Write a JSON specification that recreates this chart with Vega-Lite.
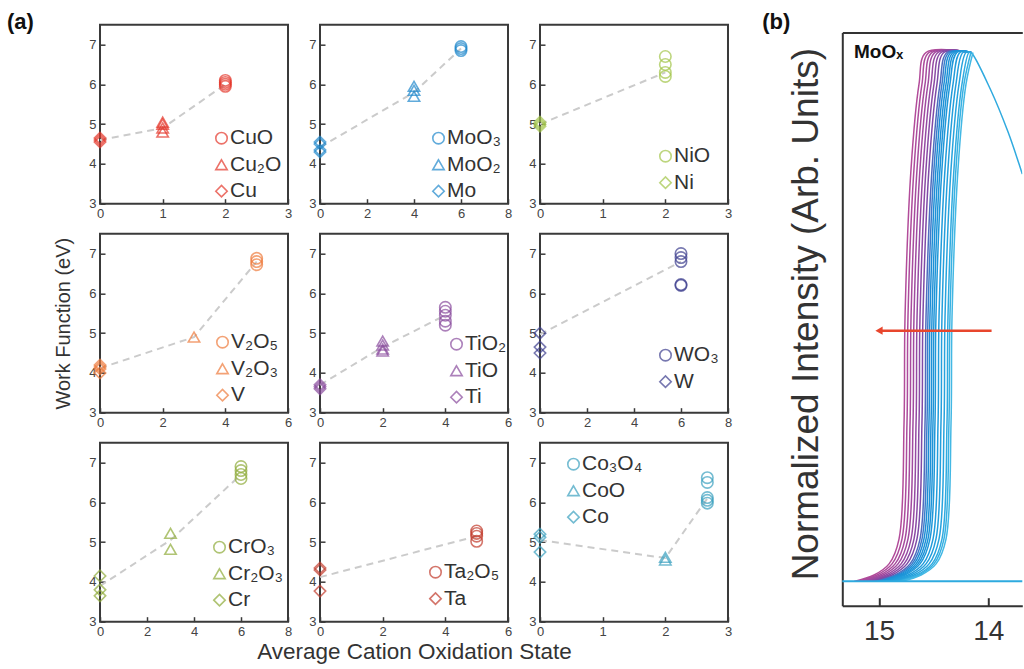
{
  "$schema": "https://vega.github.io/schema/vega-lite/v6.json",
  "background": "white",
  "padding": {"left": 6, "top": 9.7, "right": 0, "bottom": 0},
  "config": {
    "font": "Liberation Sans",
    "view": {"stroke": "#3a3a3a", "strokeWidth": 2},
    "axis": {
      "domain": false, "grid": false,
      "tickSize": -5, "tickColor": "#3a3a3a", "tickWidth": 1.5,
      "labelPadding": 9, "labelFont": "Liberation Sans", "labelFontSize": 13, "labelColor": "#444",
      "labelOverlap": false, "labelBound": false, "labelFlush": false,
      "titleFont": "Liberation Sans", "titleFontWeight": "normal", "titleColor": "#333"
    },
    "legend": {
      "orient": "none", "title": null, "padding": 0,
      "labelFont": "Liberation Sans", "labelFontSize": 21, "labelColor": "#333", "labelOffset": -2,
      "symbolSize": 130, "symbolStrokeWidth": 1.6, "symbolFillColor": "transparent", "rowPadding": 4.5
    },
    "title": {"font": "Liberation Sans", "fontWeight": "bold", "fontSize": 22, "color": "#111", "anchor": "start", "baseline": "alphabetic", "frame": "group"}
  },
  "datasets": {
    "wf": [
      {"p": "Cu", "c": "CuO", "ox": 2, "wf": 5.95}, {"p": "Cu", "c": "CuO", "ox": 2, "wf": 6.0}, {"p": "Cu", "c": "CuO", "ox": 2, "wf": 6.05}, {"p": "Cu", "c": "CuO", "ox": 2, "wf": 6.1},
      {"p": "Cu", "c": "Cu₂O", "ox": 1, "wf": 4.8}, {"p": "Cu", "c": "Cu₂O", "ox": 1, "wf": 4.9}, {"p": "Cu", "c": "Cu₂O", "ox": 1, "wf": 5.0}, {"p": "Cu", "c": "Cu₂O", "ox": 1, "wf": 5.05},
      {"p": "Cu", "c": "Cu", "ox": 0, "wf": 4.55}, {"p": "Cu", "c": "Cu", "ox": 0, "wf": 4.6}, {"p": "Cu", "c": "Cu", "ox": 0, "wf": 4.65},
      {"p": "Mo", "c": "MoO₃", "ox": 6, "wf": 6.85}, {"p": "Mo", "c": "MoO₃", "ox": 6, "wf": 6.9}, {"p": "Mo", "c": "MoO₃", "ox": 6, "wf": 6.95},
      {"p": "Mo", "c": "MoO₂", "ox": 4, "wf": 5.7}, {"p": "Mo", "c": "MoO₂", "ox": 4, "wf": 5.85}, {"p": "Mo", "c": "MoO₂", "ox": 4, "wf": 5.95},
      {"p": "Mo", "c": "Mo", "ox": 0, "wf": 4.3}, {"p": "Mo", "c": "Mo", "ox": 0, "wf": 4.35}, {"p": "Mo", "c": "Mo", "ox": 0, "wf": 4.5}, {"p": "Mo", "c": "Mo", "ox": 0, "wf": 4.55},
      {"p": "Ni", "c": "NiO", "ox": 2, "wf": 6.2}, {"p": "Ni", "c": "NiO", "ox": 2, "wf": 6.3}, {"p": "Ni", "c": "NiO", "ox": 2, "wf": 6.5}, {"p": "Ni", "c": "NiO", "ox": 2, "wf": 6.7},
      {"p": "Ni", "c": "Ni", "ox": 0, "wf": 4.95}, {"p": "Ni", "c": "Ni", "ox": 0, "wf": 5.0}, {"p": "Ni", "c": "Ni", "ox": 0, "wf": 5.05},
      {"p": "V", "c": "V₂O₅", "ox": 5, "wf": 6.72}, {"p": "V", "c": "V₂O₅", "ox": 5, "wf": 6.8}, {"p": "V", "c": "V₂O₅", "ox": 5, "wf": 6.88},
      {"p": "V", "c": "V₂O₃", "ox": 3, "wf": 4.9},
      {"p": "V", "c": "V", "ox": 0, "wf": 4.0}, {"p": "V", "c": "V", "ox": 0, "wf": 4.1}, {"p": "V", "c": "V", "ox": 0, "wf": 4.15}, {"p": "V", "c": "V", "ox": 0, "wf": 4.2},
      {"p": "Ti", "c": "TiO₂", "ox": 4, "wf": 5.2}, {"p": "Ti", "c": "TiO₂", "ox": 4, "wf": 5.3}, {"p": "Ti", "c": "TiO₂", "ox": 4, "wf": 5.45}, {"p": "Ti", "c": "TiO₂", "ox": 4, "wf": 5.55}, {"p": "Ti", "c": "TiO₂", "ox": 4, "wf": 5.65},
      {"p": "Ti", "c": "TiO", "ox": 2, "wf": 4.55}, {"p": "Ti", "c": "TiO", "ox": 2, "wf": 4.6}, {"p": "Ti", "c": "TiO", "ox": 2, "wf": 4.7}, {"p": "Ti", "c": "TiO", "ox": 2, "wf": 4.8},
      {"p": "Ti", "c": "Ti", "ox": 0, "wf": 3.6}, {"p": "Ti", "c": "Ti", "ox": 0, "wf": 3.65}, {"p": "Ti", "c": "Ti", "ox": 0, "wf": 3.7},
      {"p": "W", "c": "WO₃", "ox": 6, "wf": 6.2}, {"p": "W", "c": "WO₃", "ox": 6, "wf": 6.22}, {"p": "W", "c": "WO₃", "ox": 6, "wf": 6.8}, {"p": "W", "c": "WO₃", "ox": 6, "wf": 6.9}, {"p": "W", "c": "WO₃", "ox": 6, "wf": 7.0},
      {"p": "W", "c": "W", "ox": 0, "wf": 4.5}, {"p": "W", "c": "W", "ox": 0, "wf": 4.65}, {"p": "W", "c": "W", "ox": 0, "wf": 5.0},
      {"p": "Cr", "c": "CrO₃", "ox": 6, "wf": 6.6}, {"p": "Cr", "c": "CrO₃", "ox": 6, "wf": 6.7}, {"p": "Cr", "c": "CrO₃", "ox": 6, "wf": 6.8}, {"p": "Cr", "c": "CrO₃", "ox": 6, "wf": 6.9},
      {"p": "Cr", "c": "Cr₂O₃", "ox": 3, "wf": 4.82}, {"p": "Cr", "c": "Cr₂O₃", "ox": 3, "wf": 5.22},
      {"p": "Cr", "c": "Cr", "ox": 0, "wf": 3.65}, {"p": "Cr", "c": "Cr", "ox": 0, "wf": 3.8}, {"p": "Cr", "c": "Cr", "ox": 0, "wf": 4.15},
      {"p": "Ta", "c": "Ta₂O₅", "ox": 5, "wf": 5.02}, {"p": "Ta", "c": "Ta₂O₅", "ox": 5, "wf": 5.15}, {"p": "Ta", "c": "Ta₂O₅", "ox": 5, "wf": 5.22}, {"p": "Ta", "c": "Ta₂O₅", "ox": 5, "wf": 5.28},
      {"p": "Ta", "c": "Ta", "ox": 0, "wf": 3.77}, {"p": "Ta", "c": "Ta", "ox": 0, "wf": 4.3}, {"p": "Ta", "c": "Ta", "ox": 0, "wf": 4.35},
      {"p": "Co", "c": "Co₃O₄", "ox": 2.67, "wf": 5.98}, {"p": "Co", "c": "Co₃O₄", "ox": 2.67, "wf": 6.05}, {"p": "Co", "c": "Co₃O₄", "ox": 2.67, "wf": 6.12}, {"p": "Co", "c": "Co₃O₄", "ox": 2.67, "wf": 6.5}, {"p": "Co", "c": "Co₃O₄", "ox": 2.67, "wf": 6.62},
      {"p": "Co", "c": "CoO", "ox": 2, "wf": 4.55}, {"p": "Co", "c": "CoO", "ox": 2, "wf": 4.62},
      {"p": "Co", "c": "Co", "ox": 0, "wf": 4.75}, {"p": "Co", "c": "Co", "ox": 0, "wf": 5.12}, {"p": "Co", "c": "Co", "ox": 0, "wf": 5.2}
    ],
    "trend": [
      {"p": "Cu", "ox": 0, "wf": 4.6}, {"p": "Cu", "ox": 1, "wf": 4.9}, {"p": "Cu", "ox": 2, "wf": 6.0},
      {"p": "Mo", "ox": 0, "wf": 4.42}, {"p": "Mo", "ox": 4, "wf": 5.8}, {"p": "Mo", "ox": 6, "wf": 6.9},
      {"p": "Ni", "ox": 0, "wf": 5.0}, {"p": "Ni", "ox": 2, "wf": 6.3},
      {"p": "V", "ox": 0, "wf": 4.12}, {"p": "V", "ox": 3, "wf": 4.9}, {"p": "V", "ox": 5, "wf": 6.8},
      {"p": "Ti", "ox": 0, "wf": 3.7}, {"p": "Ti", "ox": 2, "wf": 4.65}, {"p": "Ti", "ox": 4, "wf": 5.45},
      {"p": "W", "ox": 0, "wf": 4.97}, {"p": "W", "ox": 6, "wf": 6.8},
      {"p": "Cr", "ox": 0, "wf": 3.9}, {"p": "Cr", "ox": 3, "wf": 5.05}, {"p": "Cr", "ox": 6, "wf": 6.7},
      {"p": "Ta", "ox": 0, "wf": 4.12}, {"p": "Ta", "ox": 5, "wf": 5.15},
      {"p": "Co", "ox": 0, "wf": 5.05}, {"p": "Co", "ox": 2, "wf": 4.6}, {"p": "Co", "ox": 2.67, "wf": 6.1}
    ],
    "ups": [
      {"k": 1, "e": 15.228, "i": 0}, {"k": 1, "e": 15.045, "i": 0.012}, {"k": 1, "e": 14.908, "i": 0.033}, {"k": 1, "e": 14.817, "i": 0.08}, {"k": 1, "e": 14.771, "i": 0.3}, {"k": 1, "e": 14.762, "i": 0.5}, {"k": 1, "e": 14.707, "i": 0.78}, {"k": 1, "e": 14.634, "i": 0.94}, {"k": 1, "e": 14.570, "i": 1}, {"k": 1, "e": 14.158, "i": 1},
      {"k": 2, "e": 15.201, "i": 0}, {"k": 2, "e": 15.018, "i": 0.012}, {"k": 2, "e": 14.881, "i": 0.033}, {"k": 2, "e": 14.790, "i": 0.08}, {"k": 2, "e": 14.744, "i": 0.3}, {"k": 2, "e": 14.735, "i": 0.5}, {"k": 2, "e": 14.680, "i": 0.78}, {"k": 2, "e": 14.607, "i": 0.94}, {"k": 2, "e": 14.543, "i": 1}, {"k": 2, "e": 14.158, "i": 1},
      {"k": 3, "e": 15.173, "i": 0}, {"k": 3, "e": 14.990, "i": 0.012}, {"k": 3, "e": 14.853, "i": 0.033}, {"k": 3, "e": 14.762, "i": 0.08}, {"k": 3, "e": 14.716, "i": 0.3}, {"k": 3, "e": 14.707, "i": 0.5}, {"k": 3, "e": 14.652, "i": 0.78}, {"k": 3, "e": 14.579, "i": 0.94}, {"k": 3, "e": 14.515, "i": 1}, {"k": 3, "e": 14.158, "i": 1},
      {"k": 4, "e": 15.146, "i": 0}, {"k": 4, "e": 14.963, "i": 0.012}, {"k": 4, "e": 14.826, "i": 0.033}, {"k": 4, "e": 14.735, "i": 0.08}, {"k": 4, "e": 14.689, "i": 0.3}, {"k": 4, "e": 14.680, "i": 0.5}, {"k": 4, "e": 14.625, "i": 0.78}, {"k": 4, "e": 14.552, "i": 0.94}, {"k": 4, "e": 14.488, "i": 1}, {"k": 4, "e": 14.158, "i": 1},
      {"k": 5, "e": 15.118, "i": 0}, {"k": 5, "e": 14.935, "i": 0.012}, {"k": 5, "e": 14.798, "i": 0.033}, {"k": 5, "e": 14.707, "i": 0.08}, {"k": 5, "e": 14.661, "i": 0.3}, {"k": 5, "e": 14.652, "i": 0.5}, {"k": 5, "e": 14.597, "i": 0.78}, {"k": 5, "e": 14.524, "i": 0.94}, {"k": 5, "e": 14.460, "i": 1}, {"k": 5, "e": 14.158, "i": 1},
      {"k": 6, "e": 15.091, "i": 0}, {"k": 6, "e": 14.908, "i": 0.012}, {"k": 6, "e": 14.771, "i": 0.033}, {"k": 6, "e": 14.680, "i": 0.08}, {"k": 6, "e": 14.634, "i": 0.3}, {"k": 6, "e": 14.625, "i": 0.5}, {"k": 6, "e": 14.570, "i": 0.78}, {"k": 6, "e": 14.497, "i": 0.94}, {"k": 6, "e": 14.433, "i": 1}, {"k": 6, "e": 14.158, "i": 1},
      {"k": 7, "e": 15.064, "i": 0}, {"k": 7, "e": 14.881, "i": 0.012}, {"k": 7, "e": 14.744, "i": 0.033}, {"k": 7, "e": 14.653, "i": 0.08}, {"k": 7, "e": 14.607, "i": 0.3}, {"k": 7, "e": 14.598, "i": 0.5}, {"k": 7, "e": 14.543, "i": 0.78}, {"k": 7, "e": 14.470, "i": 0.94}, {"k": 7, "e": 14.406, "i": 1}, {"k": 7, "e": 14.158, "i": 1},
      {"k": 8, "e": 15.036, "i": 0}, {"k": 8, "e": 14.853, "i": 0.012}, {"k": 8, "e": 14.716, "i": 0.033}, {"k": 8, "e": 14.625, "i": 0.08}, {"k": 8, "e": 14.579, "i": 0.3}, {"k": 8, "e": 14.570, "i": 0.5}, {"k": 8, "e": 14.515, "i": 0.78}, {"k": 8, "e": 14.442, "i": 0.94}, {"k": 8, "e": 14.378, "i": 1}, {"k": 8, "e": 14.158, "i": 1},
      {"k": 9, "e": 15.018, "i": 0}, {"k": 9, "e": 14.835, "i": 0.012}, {"k": 9, "e": 14.698, "i": 0.033}, {"k": 9, "e": 14.607, "i": 0.08}, {"k": 9, "e": 14.561, "i": 0.3}, {"k": 9, "e": 14.552, "i": 0.5}, {"k": 9, "e": 14.497, "i": 0.78}, {"k": 9, "e": 14.424, "i": 0.94}, {"k": 9, "e": 14.360, "i": 1}, {"k": 9, "e": 14.158, "i": 1},
      {"k": 10, "e": 15.000, "i": 0}, {"k": 10, "e": 14.817, "i": 0.012}, {"k": 10, "e": 14.680, "i": 0.033}, {"k": 10, "e": 14.589, "i": 0.08}, {"k": 10, "e": 14.543, "i": 0.3}, {"k": 10, "e": 14.534, "i": 0.5}, {"k": 10, "e": 14.479, "i": 0.78}, {"k": 10, "e": 14.406, "i": 0.94}, {"k": 10, "e": 14.342, "i": 1}, {"k": 10, "e": 14.158, "i": 1},
      {"k": 11, "e": 14.981, "i": 0}, {"k": 11, "e": 14.798, "i": 0.012}, {"k": 11, "e": 14.661, "i": 0.033}, {"k": 11, "e": 14.570, "i": 0.08}, {"k": 11, "e": 14.524, "i": 0.3}, {"k": 11, "e": 14.515, "i": 0.5}, {"k": 11, "e": 14.460, "i": 0.78}, {"k": 11, "e": 14.387, "i": 0.94}, {"k": 11, "e": 14.323, "i": 1}, {"k": 11, "e": 14.158, "i": 1},
      {"k": 12, "e": 14.963, "i": 0}, {"k": 12, "e": 14.780, "i": 0.012}, {"k": 12, "e": 14.643, "i": 0.033}, {"k": 12, "e": 14.552, "i": 0.08}, {"k": 12, "e": 14.506, "i": 0.3}, {"k": 12, "e": 14.497, "i": 0.5}, {"k": 12, "e": 14.442, "i": 0.78}, {"k": 12, "e": 14.369, "i": 0.94}, {"k": 12, "e": 14.305, "i": 1}, {"k": 12, "e": 14.158, "i": 1},
      {"k": 13, "e": 14.945, "i": 0}, {"k": 13, "e": 14.762, "i": 0.012}, {"k": 13, "e": 14.625, "i": 0.033}, {"k": 13, "e": 14.534, "i": 0.08}, {"k": 13, "e": 14.488, "i": 0.3}, {"k": 13, "e": 14.479, "i": 0.5}, {"k": 13, "e": 14.424, "i": 0.78}, {"k": 13, "e": 14.351, "i": 0.94}, {"k": 13, "e": 14.287, "i": 1}, {"k": 13, "e": 14.158, "i": 1},
      {"k": 14, "e": 14.917, "i": 0}, {"k": 14, "e": 14.734, "i": 0.012}, {"k": 14, "e": 14.597, "i": 0.033}, {"k": 14, "e": 14.506, "i": 0.08}, {"k": 14, "e": 14.460, "i": 0.3}, {"k": 14, "e": 14.451, "i": 0.5}, {"k": 14, "e": 14.396, "i": 0.78}, {"k": 14, "e": 14.323, "i": 0.94}, {"k": 14, "e": 14.259, "i": 1}, {"k": 14, "e": 14.158, "i": 1},
      {"k": 15, "e": 14.890, "i": 0}, {"k": 15, "e": 14.707, "i": 0.012}, {"k": 15, "e": 14.570, "i": 0.033}, {"k": 15, "e": 14.479, "i": 0.08}, {"k": 15, "e": 14.433, "i": 0.3}, {"k": 15, "e": 14.424, "i": 0.5}, {"k": 15, "e": 14.369, "i": 0.78}, {"k": 15, "e": 14.296, "i": 0.94}, {"k": 15, "e": 14.232, "i": 1}, {"k": 15, "e": 14.158, "i": 1},
      {"k": 16, "e": 14.862, "i": 0}, {"k": 16, "e": 14.679, "i": 0.012}, {"k": 16, "e": 14.542, "i": 0.033}, {"k": 16, "e": 14.451, "i": 0.08}, {"k": 16, "e": 14.405, "i": 0.3}, {"k": 16, "e": 14.396, "i": 0.5}, {"k": 16, "e": 14.341, "i": 0.78}, {"k": 16, "e": 14.268, "i": 0.94}, {"k": 16, "e": 14.204, "i": 1}, {"k": 16, "e": 14.158, "i": 1},
      {"k": 17, "e": 14.835, "i": 0}, {"k": 17, "e": 14.652, "i": 0.012}, {"k": 17, "e": 14.515, "i": 0.033}, {"k": 17, "e": 14.424, "i": 0.08}, {"k": 17, "e": 14.378, "i": 0.3}, {"k": 17, "e": 14.369, "i": 0.5}, {"k": 17, "e": 14.314, "i": 0.78}, {"k": 17, "e": 14.241, "i": 0.94}, {"k": 17, "e": 14.177, "i": 1}, {"k": 17, "e": 14.158, "i": 1},
      {"k": 17, "e": 13.98, "i": 0.93}, {"k": 17, "e": 13.82, "i": 0.85}, {"k": 17, "e": 13.72, "i": 0.79}, {"k": 17, "e": 13.689, "i": 0.77},
      {"k": 18, "e": 14.817, "i": 0}, {"k": 18, "e": 14.634, "i": 0.012}, {"k": 18, "e": 14.497, "i": 0.033}, {"k": 18, "e": 14.406, "i": 0.08}, {"k": 18, "e": 14.360, "i": 0.3}, {"k": 18, "e": 14.351, "i": 0.5}, {"k": 18, "e": 14.296, "i": 0.78}, {"k": 18, "e": 14.223, "i": 0.94}, {"k": 18, "e": 14.159, "i": 1},
      {"k": 19, "e": 14.798, "i": 0}, {"k": 19, "e": 14.615, "i": 0.012}, {"k": 19, "e": 14.478, "i": 0.033}, {"k": 19, "e": 14.387, "i": 0.08}, {"k": 19, "e": 14.341, "i": 0.3}, {"k": 19, "e": 14.332, "i": 0.5}, {"k": 19, "e": 14.277, "i": 0.78}, {"k": 19, "e": 14.204, "i": 0.94}, {"k": 19, "e": 14.140, "i": 1}
    ],
    "base": [{"e": 15.336, "i": 0}, {"e": 13.689, "i": 0}],
    "arrow": [{"e1": 13.97, "e2": 15.0, "i": 0.474}],
    "lbl": [{"e": 15.229, "i": 0.99, "t": "MoOₓ"}]
  },
  "hconcat": [
    {
      "columns": 3,
      "bounds": "flush",
      "spacing": {"row": 30, "column": 32},
      "resolve": {"scale": {"x": "independent", "y": "independent", "shape": "independent"}, "legend": {"shape": "independent"}},
      "concat": [
        {
          "width": 188, "height": 179,
          "title": {"text": "(a)", "dx": -93, "offset": -9},
          "encoding": {
            "x": {"field": "ox", "type": "quantitative", "scale": {"domain": [0, 3], "nice": false, "zero": false}, "axis": {"values": [0, 1, 2, 3], "title": null}},
            "y": {"field": "wf", "type": "quantitative", "scale": {"domain": [3, 7.5], "nice": false, "zero": false}, "axis": {"values": [3, 4, 5, 6, 7], "title": null}}
          },
          "layer": [
            {"data": {"name": "trend"}, "transform": [{"filter": "datum.p === 'Cu'"}], "mark": {"type": "line", "color": "#cbcbcb", "strokeWidth": 2, "strokeDash": [7, 5]}, "encoding": {}},
            {"data": {"name": "wf"}, "transform": [{"filter": "datum.p === 'Cu'"}], "mark": {"type": "point", "filled": false, "color": "#e5372b", "size": 130, "strokeWidth": 1.6},
             "encoding": {"shape": {"field": "c", "type": "nominal", "scale": {"domain": ["CuO", "Cu₂O", "Cu"], "range": ["circle", "triangle-up", "diamond"]}, "legend": {"legendX": 111, "legendY": 103, "symbolStrokeColor": "#e5372b"}}}}
          ]
        },
        {
          "width": 188, "height": 179,
          "encoding": {
            "x": {"field": "ox", "type": "quantitative", "scale": {"domain": [0, 8], "nice": false, "zero": false}, "axis": {"values": [0, 2, 4, 6, 8], "title": null}},
            "y": {"field": "wf", "type": "quantitative", "scale": {"domain": [3, 7.5], "nice": false, "zero": false}, "axis": {"values": [3, 4, 5, 6, 7], "title": null}}
          },
          "layer": [
            {"data": {"name": "trend"}, "transform": [{"filter": "datum.p === 'Mo'"}], "mark": {"type": "line", "color": "#cbcbcb", "strokeWidth": 2, "strokeDash": [7, 5]}, "encoding": {}},
            {"data": {"name": "wf"}, "transform": [{"filter": "datum.p === 'Mo'"}], "mark": {"type": "point", "filled": false, "color": "#1f88cc", "size": 130, "strokeWidth": 1.6},
             "encoding": {"shape": {"field": "c", "type": "nominal", "scale": {"domain": ["MoO₃", "MoO₂", "Mo"], "range": ["circle", "triangle-up", "diamond"]}, "legend": {"legendX": 108, "legendY": 103, "symbolStrokeColor": "#1f88cc"}}}}
          ]
        },
        {
          "width": 188, "height": 179,
          "encoding": {
            "x": {"field": "ox", "type": "quantitative", "scale": {"domain": [0, 3], "nice": false, "zero": false}, "axis": {"values": [0, 1, 2, 3], "title": null}},
            "y": {"field": "wf", "type": "quantitative", "scale": {"domain": [3, 7.5], "nice": false, "zero": false}, "axis": {"values": [3, 4, 5, 6, 7], "title": null}}
          },
          "layer": [
            {"data": {"name": "trend"}, "transform": [{"filter": "datum.p === 'Ni'"}], "mark": {"type": "line", "color": "#cbcbcb", "strokeWidth": 2, "strokeDash": [7, 5]}, "encoding": {}},
            {"data": {"name": "wf"}, "transform": [{"filter": "datum.p === 'Ni'"}], "mark": {"type": "point", "filled": false, "color": "#a2c548", "size": 130, "strokeWidth": 1.6},
             "encoding": {"shape": {"field": "c", "type": "nominal", "scale": {"domain": ["NiO", "Ni"], "range": ["circle", "diamond"]}, "legend": {"legendX": 115, "legendY": 121, "symbolStrokeColor": "#a2c548"}}}}
          ]
        },
        {
          "width": 188, "height": 179,
          "encoding": {
            "x": {"field": "ox", "type": "quantitative", "scale": {"domain": [0, 6], "nice": false, "zero": false}, "axis": {"values": [0, 2, 4, 6], "title": null}},
            "y": {"field": "wf", "type": "quantitative", "scale": {"domain": [3, 7.5], "nice": false, "zero": false}, "axis": {"values": [3, 4, 5, 6, 7], "title": "Work Function (eV)", "titleFontSize": 20, "titlePadding": 15}}
          },
          "layer": [
            {"data": {"name": "trend"}, "transform": [{"filter": "datum.p === 'V'"}], "mark": {"type": "line", "color": "#cbcbcb", "strokeWidth": 2, "strokeDash": [7, 5]}, "encoding": {}},
            {"data": {"name": "wf"}, "transform": [{"filter": "datum.p === 'V'"}], "mark": {"type": "point", "filled": false, "color": "#ef7b3c", "size": 130, "strokeWidth": 1.6},
             "encoding": {"shape": {"field": "c", "type": "nominal", "scale": {"domain": ["V₂O₅", "V₂O₃", "V"], "range": ["circle", "triangle-up", "diamond"]}, "legend": {"legendX": 112, "legendY": 98, "symbolStrokeColor": "#ef7b3c"}}}}
          ]
        },
        {
          "width": 188, "height": 179,
          "encoding": {
            "x": {"field": "ox", "type": "quantitative", "scale": {"domain": [0, 6], "nice": false, "zero": false}, "axis": {"values": [0, 2, 4, 6], "title": null}},
            "y": {"field": "wf", "type": "quantitative", "scale": {"domain": [3, 7.5], "nice": false, "zero": false}, "axis": {"values": [3, 4, 5, 6, 7], "title": null}}
          },
          "layer": [
            {"data": {"name": "trend"}, "transform": [{"filter": "datum.p === 'Ti'"}], "mark": {"type": "line", "color": "#cbcbcb", "strokeWidth": 2, "strokeDash": [7, 5]}, "encoding": {}},
            {"data": {"name": "wf"}, "transform": [{"filter": "datum.p === 'Ti'"}], "mark": {"type": "point", "filled": false, "color": "#8a4c9e", "size": 130, "strokeWidth": 1.6},
             "encoding": {"shape": {"field": "c", "type": "nominal", "scale": {"domain": ["TiO₂", "TiO", "Ti"], "range": ["circle", "triangle-up", "diamond"]}, "legend": {"legendX": 126, "legendY": 100, "symbolStrokeColor": "#8a4c9e"}}}}
          ]
        },
        {
          "width": 188, "height": 179,
          "encoding": {
            "x": {"field": "ox", "type": "quantitative", "scale": {"domain": [0, 8], "nice": false, "zero": false}, "axis": {"values": [0, 2, 4, 6, 8], "title": null}},
            "y": {"field": "wf", "type": "quantitative", "scale": {"domain": [3, 7.5], "nice": false, "zero": false}, "axis": {"values": [3, 4, 5, 6, 7], "title": null}}
          },
          "layer": [
            {"data": {"name": "trend"}, "transform": [{"filter": "datum.p === 'W'"}], "mark": {"type": "line", "color": "#cbcbcb", "strokeWidth": 2, "strokeDash": [7, 5]}, "encoding": {}},
            {"data": {"name": "wf"}, "transform": [{"filter": "datum.p === 'W'"}], "mark": {"type": "point", "filled": false, "color": "#3e3f8f", "size": 130, "strokeWidth": 1.6},
             "encoding": {"shape": {"field": "c", "type": "nominal", "scale": {"domain": ["WO₃", "W"], "range": ["circle", "diamond"]}, "legend": {"legendX": 115, "legendY": 111, "symbolStrokeColor": "#3e3f8f"}}}}
          ]
        },
        {
          "width": 188, "height": 179,
          "encoding": {
            "x": {"field": "ox", "type": "quantitative", "scale": {"domain": [0, 8], "nice": false, "zero": false}, "axis": {"values": [0, 2, 4, 6, 8], "title": null}},
            "y": {"field": "wf", "type": "quantitative", "scale": {"domain": [3, 7.5], "nice": false, "zero": false}, "axis": {"values": [3, 4, 5, 6, 7], "title": null}}
          },
          "layer": [
            {"data": {"name": "trend"}, "transform": [{"filter": "datum.p === 'Cr'"}], "mark": {"type": "line", "color": "#cbcbcb", "strokeWidth": 2, "strokeDash": [7, 5]}, "encoding": {}},
            {"data": {"name": "wf"}, "transform": [{"filter": "datum.p === 'Cr'"}], "mark": {"type": "point", "filled": false, "color": "#8fac3a", "size": 130, "strokeWidth": 1.6},
             "encoding": {"shape": {"field": "c", "type": "nominal", "scale": {"domain": ["CrO₃", "Cr₂O₃", "Cr"], "range": ["circle", "triangle-up", "diamond"]}, "legend": {"legendX": 109, "legendY": 94, "symbolStrokeColor": "#8fac3a"}}}}
          ]
        },
        {
          "width": 188, "height": 179,
          "encoding": {
            "x": {"field": "ox", "type": "quantitative", "scale": {"domain": [0, 6], "nice": false, "zero": false}, "axis": {"values": [0, 2, 4, 6], "title": "Average Cation Oxidation State", "titleFontSize": 22.5, "titlePadding": 2}},
            "y": {"field": "wf", "type": "quantitative", "scale": {"domain": [3, 7.5], "nice": false, "zero": false}, "axis": {"values": [3, 4, 5, 6, 7], "title": null}}
          },
          "layer": [
            {"data": {"name": "trend"}, "transform": [{"filter": "datum.p === 'Ta'"}], "mark": {"type": "line", "color": "#cbcbcb", "strokeWidth": 2, "strokeDash": [7, 5]}, "encoding": {}},
            {"data": {"name": "wf"}, "transform": [{"filter": "datum.p === 'Ta'"}], "mark": {"type": "point", "filled": false, "color": "#c23b2c", "size": 130, "strokeWidth": 1.6},
             "encoding": {"shape": {"field": "c", "type": "nominal", "scale": {"domain": ["Ta₂O₅", "Ta"], "range": ["circle", "diamond"]}, "legend": {"legendX": 105, "legendY": 119, "symbolStrokeColor": "#c23b2c"}}}}
          ]
        },
        {
          "width": 188, "height": 179,
          "encoding": {
            "x": {"field": "ox", "type": "quantitative", "scale": {"domain": [0, 3], "nice": false, "zero": false}, "axis": {"values": [0, 1, 2, 3], "title": null}},
            "y": {"field": "wf", "type": "quantitative", "scale": {"domain": [3, 7.5], "nice": false, "zero": false}, "axis": {"values": [3, 4, 5, 6, 7], "title": null}}
          },
          "layer": [
            {"data": {"name": "trend"}, "transform": [{"filter": "datum.p === 'Co'"}], "mark": {"type": "line", "color": "#cbcbcb", "strokeWidth": 2, "strokeDash": [7, 5]}, "encoding": {}},
            {"data": {"name": "wf"}, "transform": [{"filter": "datum.p === 'Co'"}], "mark": {"type": "point", "filled": false, "color": "#3aa0bf", "size": 130, "strokeWidth": 1.6},
             "encoding": {"shape": {"field": "c", "type": "nominal", "scale": {"domain": ["Co₃O₄", "CoO", "Co"], "range": ["circle", "triangle-up", "diamond"]}, "legend": {"legendX": 23, "legendY": 11, "symbolStrokeColor": "#3aa0bf"}}}}
          ]
        }
      ]
    },
    {
      "width": 180, "height": 581,
      "view": {"stroke": null},
      "title": {"text": "(b)", "dx": -80, "offset": -9},
      "resolve": {"axis": {"x": "independent"}},
      "encoding": {
        "y": {"field": "i", "type": "quantitative", "scale": {"domain": [-0.046, 1.038], "range": [581, 7.7], "nice": false, "zero": false},
              "axis": {"title": "Normalized Intensity (Arb. Units)", "titleFontSize": 37, "titlePadding": 17, "titleY": 289, "labels": false, "ticks": false, "domain": true, "domainColor": "#333", "domainWidth": 2}}
      },
      "layer": [
        {"data": {"name": "ups"}, "mark": {"type": "line", "strokeWidth": 1.5, "interpolate": "catmull-rom", "clip": true},
         "encoding": {
           "x": {"field": "e", "type": "quantitative", "scale": {"domain": [13.689, 15.336], "reverse": true, "nice": false, "zero": false},
                 "axis": {"values": [15, 14], "title": null, "domain": true, "domainColor": "#333", "domainWidth": 2, "tickSize": -8, "tickWidth": 2, "tickColor": "#333", "labelFontSize": 28, "labelColor": "#333", "labelPadding": 20}},
           "detail": {"field": "k", "type": "nominal"},
           "color": {"field": "k", "type": "quantitative", "legend": null,
                     "scale": {"domain": [1, 4, 7, 8, 10, 16, 19], "range": ["#b24c9a", "#a04a9f", "#7e4aa6", "#4f6cbd", "#1d8dd5", "#27a3dd", "#43b8e4"]}}
         }},
        {"data": {"name": "base"}, "mark": {"type": "line", "color": "#2eaadf", "strokeWidth": 2},
         "encoding": {
           "x": {"field": "e", "type": "quantitative", "scale": {"domain": [13.689, 15.336], "reverse": true, "nice": false, "zero": false},
                 "axis": {"orient": "top", "offset": -7.7, "title": null, "labels": false, "ticks": false, "domain": true, "domainColor": "#333", "domainWidth": 2}}
         }},
        {"data": {"name": "arrow"}, "mark": {"type": "rule", "color": "#e8462d", "strokeWidth": 2.5},
         "encoding": {
           "x": {"field": "e1", "type": "quantitative", "scale": {"domain": [13.689, 15.336], "reverse": true, "nice": false, "zero": false}, "axis": null},
           "x2": {"field": "e2"}
         }},
        {"data": {"name": "arrow"}, "mark": {"type": "point", "shape": "triangle-left", "filled": true, "color": "#e8462d", "size": 70, "opacity": 1},
         "encoding": {
           "x": {"field": "e2", "type": "quantitative", "scale": {"domain": [13.689, 15.336], "reverse": true, "nice": false, "zero": false}, "axis": null}
         }},
        {"data": {"name": "lbl"}, "mark": {"type": "text", "align": "left", "baseline": "alphabetic", "fontSize": 19, "fontWeight": "bold", "color": "#111"},
         "encoding": {
           "x": {"field": "e", "type": "quantitative", "scale": {"domain": [13.689, 15.336], "reverse": true, "nice": false, "zero": false}, "axis": null},
           "text": {"field": "t"}
         }}
      ]
    }
  ],
  "spacing": 29.3,
  "resolve": {"scale": {"x": "independent", "y": "independent", "shape": "independent", "color": "independent"}, "legend": {"shape": "independent", "color": "independent"}}
}
